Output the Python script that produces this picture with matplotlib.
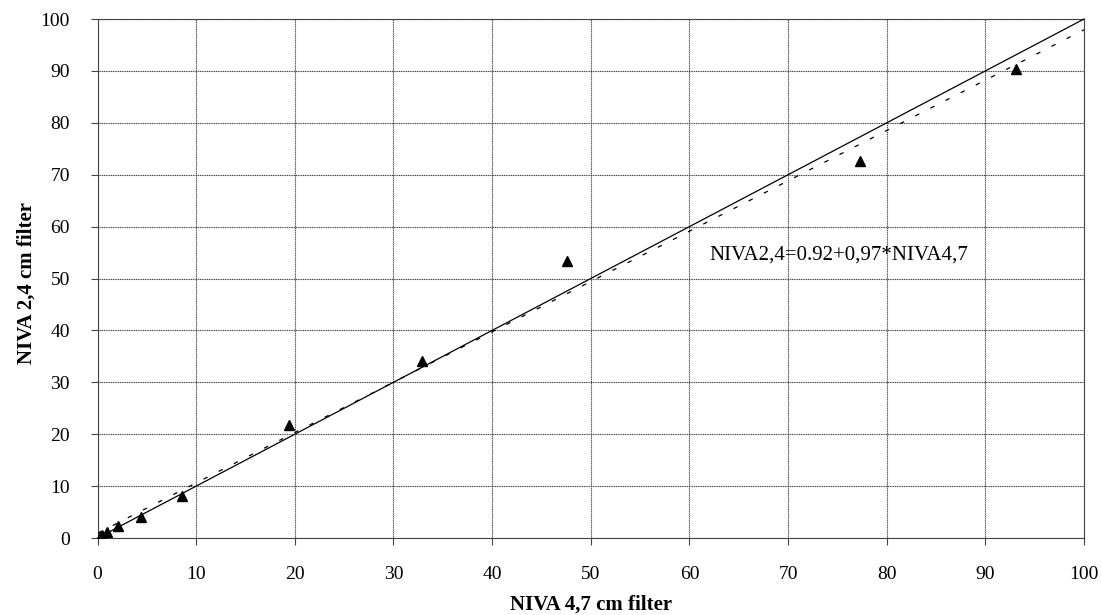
import numpy as np
import matplotlib
matplotlib.use("Agg")
import matplotlib.pyplot as plt

plt.rcParams['font.family'] = ['Liberation Serif', 'DejaVu Serif']

# values
niva47 = [0.2, 0.5, 1.0, 2.1, 4.4, 8.6, 19.4, 32.9, 47.6, 77.3, 93.1]
niva24 = [0.2, 0.5, 1.1, 2.4, 4.1, 8.1, 21.7, 34.1, 53.4, 72.7, 90.4]

# fitted line as written on the chart, and the 1:1 line
fit_a = 0.92
fit_b = 0.97
line_x = [0, 100]

ticks = list(range(0, 101, 10))

fig = plt.figure(figsize=(11.01, 6.15), dpi=100)
ax = fig.add_axes([0.0886, 0.1252, 0.8960, 0.8439])

ax.plot(line_x, line_x, color='black', lw=0.9, clip_on=False, zorder=3)
ax.plot(line_x, [fit_a + fit_b * v for v in line_x], color='black', lw=0.9,
        dashes=(3.6, 10), zorder=3)
ax.plot(niva47, niva24, linestyle='none', marker='^', color='black',
        markersize=7, zorder=4)

ax.text(62.0, 54.6, 'NIVA2,4=0.92+0,97*NIVA4,7', fontsize=15,
        ha='left', va='center')

ax.set_xlim(0, 100)
ax.set_ylim(0, 100)
ax.set_xticks(ticks)
ax.set_yticks(ticks)
ax.grid(True, color='#444444', lw=0.8, linestyle=(0, (1, 0.6)))
ax.set_axisbelow(True)
for s in ax.spines.values():
    s.set_color('#444444')
    s.set_linewidth(0.8)
ax.tick_params(axis='both', direction='out', length=5, width=0.8,
               color='#444444', labelsize=14)
ax.tick_params(axis='y', pad=15)
ax.tick_params(axis='x', pad=15)

fig.text(0.5 * (0.0886 + 0.9846), 1 - 605 / 615, 'NIVA 4,7 cm filter',
         fontsize=15, fontweight='bold', ha='center', va='center')
fig.text(26.5 / 1101, 1 - 283.5 / 615, 'NIVA 2,4 cm filter', fontsize=15,
         fontweight='bold', ha='center', va='center', rotation=90)

fig.savefig('out.png', dpi=100)
